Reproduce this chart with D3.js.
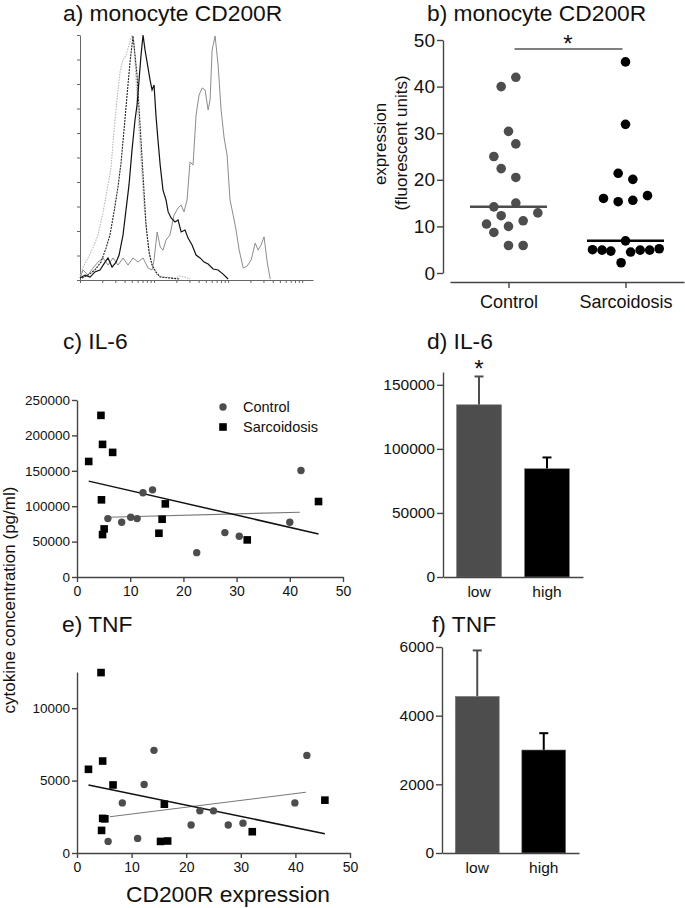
<!DOCTYPE html>
<meta charset='utf-8'>
<title>monocyte CD200R</title>
<style>
  body { margin: 0; background: #fff; }
  svg { font-family: 'Liberation Sans', Arial, Helvetica, sans-serif; }
</style>
<body>
<script src='https://cdn.jsdelivr.net/npm/d3@7'></script>
<script>

  // ---- a) histograms: fluorescence intensity vs % of max count
  var lightX = [1, 1.10, 1.28, 1.50, 1.75, 2.05, 2.39, 2.62, 2.88, 3.16, 3.47, 3.81, 4.18, 4.59, 5.04, 5.37, 5.71, 6.08, 6.67, 7.32, 8.04, 8.83, 9.69, 11.0, 14.1, 19.2, 22.5, 26.2, 30.6]
  var lightY = [2.0, 5.3, 9.0, 13.1, 18.4, 27.8, 38.8, 45.7, 61.2, 73.5, 84.9, 89.8, 91.8, 95.9, 100, 95.9, 81.6, 67.3, 49.0, 30.6, 18.4, 9.0, 4.9, 2.0, 1.2, 0.8, 1.6, 1.2, 0.4]
  var dashX = [1.06, 1.28, 1.59, 1.92, 2.25, 2.54, 2.88, 3.26, 3.58, 3.93, 4.32, 4.74, 5.20, 5.53, 5.89, 6.47, 7.10, 7.79, 8.56, 9.40, 10.6, 12.1, 16.4, 22.5]
  var dashY = [0.8, 2.0, 4.1, 7.3, 13.1, 18.4, 27.8, 38.0, 47.8, 61.2, 75.5, 89.0, 99.6, 91.8, 83.7, 63.3, 42.9, 22.4, 11.4, 6.1, 3.3, 1.2, 0.8, 0.4]
  var solidX = [1, 1.17, 1.37, 1.59, 1.86, 2.18, 2.39, 2.71, 3.07, 3.37, 3.81, 4.18, 4.59, 5.04, 5.53, 5.89, 6.27, 6.67, 7.10, 7.55, 8.04, 8.83, 9.40, 10.0, 10.6, 11.3, 12.1, 13.2, 14.5, 15.5, 17.0, 19.2, 21.1, 23.2, 26.2, 28.8, 32.6, 36.9, 41.8, 47.4, 53.7, 62.7, 73.2, 85.6, 100]
  var solidY = [0.8, 2.0, 1.2, 3.3, 4.1, 7.3, 9.0, 5.3, 7.3, 10.2, 18.4, 28.6, 38.8, 53.1, 65.3, 71.4, 81.6, 91.8, 100, 93.9, 89.0, 81.6, 77.6, 79.6, 67.3, 57.1, 46.9, 36.7, 32.7, 27.8, 25.3, 23.7, 24.5, 19.6, 20.4, 17.1, 14.3, 10.2, 9.0, 7.3, 6.5, 4.5, 4.1, 2.4, 0.4]
  var grayX = [1, 1.10, 1.28, 1.50, 1.75, 2.05, 2.39, 2.79, 3.26, 3.81, 4.45, 5.20, 6.08, 7.10, 8.29, 9.40, 10.0, 11.0, 12.1, 13.2, 14.5, 16.4, 18.6, 21.1, 23.2, 25.4, 27.9, 30.6, 33.6, 36.9, 40.5, 44.6, 48.9, 53.7, 57.1, 60.8, 66.7, 73.2, 80.4, 88.3, 96.9, 106, 117, 128, 141, 160, 181, 205, 232, 254, 279, 306, 337, 370]
  var grayY = [0.8, 4.1, 2.0, 4.9, 7.3, 9.0, 6.1, 9.0, 6.1, 9.0, 6.1, 9.0, 7.3, 9.0, 4.9, 4.1, 8.2, 19.6, 13.5, 12.2, 16.3, 18.4, 26.5, 29.4, 30.6, 27.8, 32.7, 48.2, 46.9, 67.3, 75.5, 78.4, 77.6, 69.4, 73.5, 93.9, 99.6, 87.8, 69.4, 58.0, 51.0, 32.7, 26.5, 20.4, 12.2, 4.9, 5.7, 8.2, 15.1, 12.2, 14.3, 17.6, 7.3, 0.4]

  // ---- b) CD200R expression per subject (beeswarm slot read off the picture)
  var groups = ['Control', 'Sarcoidosis']
  var ctrlExpr = [40.0, 42.0, 30.4, 27.7, 25.0, 22.4, 20.5, 14.2, 15.0, 12.3, 12.9, 10.5, 11.2, 10.0, 8.7, 5.9, 5.9]
  var ctrlSlot = [-1, 1, 0, 1, -2, -1, 1, -2, 1, -1, 4, -3, 2, 0, -2, 0, 2]
  var sarcExpr = [45.3, 31.9, 21.4, 20.1, 16.0, 15.3, 15.6, 16.6, 6.9, 5.0, 4.9, 4.7, 4.5, 4.9, 4.9, 5.2, 2.2]
  var sarcSlot = [0, 0, -1, 1, -3, -1, 1, 3, 0, -4.5, -3.2, -2, 0.7, 2, 3.3, 4.6, -0.6]

  // ---- c) IL-6 vs CD200R
  var ctrlIL6X = [5.8, 8.4, 10.1, 11.3, 12.4, 14.2, 22.5, 27.8, 30.5, 40.0, 42.1]
  var ctrlIL6Y = [82500, 77400, 84400, 82500, 118900, 123100, 34400, 62700, 57500, 77400, 150500]
  var sarcIL6X = [4.5, 2.2, 4.8, 6.7, 4.6, 5.1, 4.8, 16.6, 16.0, 15.4, 32.0, 45.4]
  var sarcIL6Y = [228300, 163200, 187300, 176000, 109000, 67900, 59900, 103300, 81600, 61800, 52400, 106600]
  var il6FitCtrlX = [5.8, 41.9], il6FitCtrlY = [84400, 91500]
  var il6FitSarcX = [2.2, 45.4], il6FitSarcY = [135400, 60800]

  // ---- e) TNF vs CD200R
  var ctrlTNFX = [5.7, 11.1, 8.3, 12.3, 14.1, 20.9, 22.5, 25.0, 27.7, 30.4, 39.9, 42.1]
  var ctrlTNFY = [800, 1010, 3460, 4730, 7090, 1930, 2910, 2910, 1930, 2060, 3460, 6740]
  var sarcTNFX = [4.4, 2.1, 4.7, 6.6, 4.7, 5.1, 4.5, 16.0, 15.3, 16.6, 32.1, 45.4]
  var sarcTNFY = [12460, 5780, 6350, 4700, 2390, 2360, 1560, 3370, 800, 830, 1470, 3650]
  var tnfFitCtrlX = [6.0, 41.9], tnfFitCtrlY = [2500, 4200]
  var tnfFitSarcX = [2.1, 45.4], tnfFitSarcY = [4700, 1330]

  // ---- d) / f) low vs high CD200R
  var levels = ['low', 'high']
  var il6Mean = [134400, 84500], il6Sem = [22100, 8800]
  var tnfMean = [4560, 3000], tnfSem = [1340, 490]

  var grey = '#4d4d4d'

  var svg = d3.select('body').append('svg')
  .attr('width', 685)
  .attr('height', 908)

  function styleAxis(g, size) {
    g.attr('font-size', size).attr('font-family', null)
    g.selectAll('path, line').attr('stroke', '#444').attr('stroke-width', 1.4)
    g.selectAll('text').attr('fill', '#111')
    return g
  }

  function title(x, y, s) {
    svg.append('text').attr('x', x).attr('y', y)
    .attr('font-size', 22.8).attr('fill', '#111').text(s)
  }

  /* ------- a) histogram overlay -------*/
  title(63, 21, 'a) monocyte CD200R')
  var xa = d3.scaleLog().domain([1, 1400]).range([80, 313])
  var ya = d3.scaleLinear().domain([0, 100]).range([280, 35])

  styleAxis(svg.append('g').attr('transform', 'translate(0,280)')
  .call(d3.axisBottom(xa).tickValues(xa.ticks()).tickSize(3).tickSizeOuter(0).tickFormat('')), 10)
  .selectAll('path, line').attr('stroke', '#666').attr('stroke-width', 1)
  styleAxis(svg.append('g').attr('transform', 'translate(80,0)')
  .call(d3.axisLeft(ya).tickValues(d3.range(0, 101, 10)).tickSize(3).tickSizeOuter(0).tickFormat('')), 10)
  .selectAll('path, line').attr('stroke', '#666').attr('stroke-width', 1)

  var hist = [
    { x: grayX, y: grayY, color: '#8c8c8c', dash: null, w: 1 },
    { x: lightX, y: lightY, color: '#b8b8b8', dash: '1.5,1.2', w: 1.1 },
    { x: dashX, y: dashY, color: '#222', dash: '2,1', w: 1.1 },
    { x: solidX, y: solidY, color: '#111', dash: null, w: 1.2 }
  ]
  var histLine = d3.line()
  .x(function(d) { return xa(d[0]) })
  .y(function(d) { return ya(d[1]) })

  svg.append('g').selectAll('path')
  .data(hist)
  .enter().append('path')
  .attr('d', function(h) { return histLine(d3.zip(h.x, h.y)) })
  .attr('fill', 'none')
  .attr('stroke', function(h) { return h.color })
  .attr('stroke-width', function(h) { return h.w })
  .attr('stroke-dasharray', function(h) { return h.dash })

  /* ------- b) scatter by group -------*/
  title(427, 21, 'b) monocyte CD200R')
  var xb = d3.scalePoint().domain(groups).range([450, 684]).padding(0.5)
  var yb = d3.scaleLinear().domain([0, 50]).range([273, 40])
  var slotW = 7.33

  styleAxis(svg.append('g').attr('transform', 'translate(443,0)')
  .call(d3.axisLeft(yb).tickValues(d3.range(0, 51, 10)).tickSize(6).tickSizeOuter(0).tickPadding(2)), 19)
  styleAxis(svg.append('g').attr('transform', 'translate(0,282)')
  .call(d3.axisBottom(xb).tickSize(6).tickSizeOuter(0).tickPadding(7)), 18)

  svg.append('text').attr('transform', 'translate(380,144) rotate(-90)')
  .attr('text-anchor', 'middle').attr('dy', '0.35em').attr('font-size', 17).attr('fill', '#111')
  .text('expression')
  svg.append('text').attr('transform', 'translate(401,143) rotate(-90)')
  .attr('text-anchor', 'middle').attr('dy', '0.35em').attr('font-size', 17).attr('fill', '#111')
  .text('(fluorescent units)')

  var groupData = [
    { name: 'Control', vals: ctrlExpr, slots: ctrlSlot, color: grey },
    { name: 'Sarcoidosis', vals: sarcExpr, slots: sarcSlot, color: '#000' }
  ]
  groupData.forEach(function(gd) {
    svg.append('g').selectAll('circle')
    .data(d3.zip(gd.vals, gd.slots))
    .enter().append('circle')
    .attr('cx', function(d) { return xb(gd.name) + d[1] * slotW })
    .attr('cy', function(d) { return yb(d[0]) })
    .attr('r', 4.8)
    .attr('fill', gd.color)
    var med = d3.median(gd.vals)
    svg.append('line')
    .attr('x1', xb(gd.name) - 38.5).attr('x2', xb(gd.name) + 38.5)
    .attr('y1', yb(med)).attr('y2', yb(med))
    .attr('stroke', gd.color).attr('stroke-width', 2.5)
  })

  // significance bar
  svg.append('line')
  .attr('x1', xb('Control') + 6).attr('x2', xb('Sarcoidosis') - 3)
  .attr('y1', 49).attr('y2', 49)
  .attr('stroke', '#555').attr('stroke-width', 1.3)
  svg.append('text').attr('x', (xb('Control') + xb('Sarcoidosis')) / 2 + 1).attr('y', 52)
  .attr('text-anchor', 'middle').attr('font-size', 24).attr('fill', '#111').text('*')

  /* ------- c) and e) scatter with fits -------*/
  function scatterPanel(o) {
    styleAxis(svg.append('g').attr('transform', 'translate(0,' + o.y.range()[0] + ')')
    .call(d3.axisBottom(o.x).tickValues(d3.range(0, 51, 10)).tickSize(5).tickSizeOuter(0).tickPadding(4)), 14)
    styleAxis(svg.append('g').attr('transform', 'translate(' + o.x.range()[0] + ',0)')
    .call(d3.axisLeft(o.y).tickValues(o.ticks).tickSize(5).tickSizeOuter(0).tickPadding(2).tickFormat(d3.format('d'))), 13.5)

    var fitLine = d3.line()
    .x(function(d) { return o.x(d[0]) })
    .y(function(d) { return o.y(d[1]) })
    svg.append('path').attr('d', fitLine(d3.zip(o.fitCX, o.fitCY)))
    .attr('stroke', '#777').attr('stroke-width', 1.1).attr('fill', 'none')
    svg.append('path').attr('d', fitLine(d3.zip(o.fitSX, o.fitSY)))
    .attr('stroke', '#111').attr('stroke-width', 1.5).attr('fill', 'none')

    svg.append('g').selectAll('circle')
    .data(d3.zip(o.cx, o.cy))
    .enter().append('circle')
    .attr('cx', function(d) { return o.x(d[0]) })
    .attr('cy', function(d) { return o.y(d[1]) })
    .attr('r', 3.7)
    .attr('fill', grey)

    svg.append('g').selectAll('rect')
    .data(d3.zip(o.sx, o.sy))
    .enter().append('rect')
    .attr('x', function(d) { return o.x(d[0]) - 3.8 })
    .attr('y', function(d) { return o.y(d[1]) - 3.8 })
    .attr('width', 7.6).attr('height', 7.6)
    .attr('fill', '#000')
  }

  title(63, 349, 'c) IL-6')
  scatterPanel({
    x: d3.scaleLinear().domain([0, 50]).range([77, 343]),
    y: d3.scaleLinear().domain([0, 250000]).range([577, 400]),
    ticks: d3.range(0, 250001, 50000),
    cx: ctrlIL6X, cy: ctrlIL6Y, sx: sarcIL6X, sy: sarcIL6Y,
    fitCX: il6FitCtrlX, fitCY: il6FitCtrlY, fitSX: il6FitSarcX, fitSY: il6FitSarcY
  })

  // legend
  var legend = svg.append('g').attr('transform', 'translate(223,407)')
  legend.append('circle').attr('r', 3.7).attr('fill', grey)
  legend.append('rect').attr('x', -3.8).attr('y', 16.2).attr('width', 7.6).attr('height', 7.6).attr('fill', '#000')
  legend.selectAll('text')
  .data(groups)
  .enter().append('text')
  .attr('x', 20)
  .attr('y', function(d, i) { return i * 20 })
  .attr('dy', '0.35em')
  .attr('font-size', 14.5)
  .attr('fill', '#111')
  .text(function(d) { return d })

  title(62, 632, 'e) TNF')
  scatterPanel({
    x: d3.scaleLinear().domain([0, 50]).range([77, 350]),
    y: d3.scaleLinear().domain([0, 12500]).range([853, 672]),
    ticks: [0, 5000, 10000],
    cx: ctrlTNFX, cy: ctrlTNFY, sx: sarcTNFX, sy: sarcTNFY,
    fitCX: tnfFitCtrlX, fitCY: tnfFitCtrlY, fitSX: tnfFitSarcX, fitSY: tnfFitSarcY
  })

  svg.append('text').attr('transform', 'translate(9,600) rotate(-90)')
  .attr('text-anchor', 'middle').attr('dy', '0.35em').attr('font-size', 17).attr('fill', '#111')
  .text('cytokine concentration (pg/ml)')
  svg.append('text').attr('x', 228).attr('y', 902)
  .attr('text-anchor', 'middle').attr('font-size', 22.8).attr('fill', '#111')
  .text('CD200R expression')

  /* ------- d) and f) bars with SEM -------*/
  function barPanel(o) {
    var x = d3.scaleBand().domain(levels).range(o.xr).paddingInner(0.34).paddingOuter(0.2)
    styleAxis(svg.append('g').attr('transform', 'translate(' + o.xr[0] + ',0)')
    .call(d3.axisLeft(o.y).tickValues(o.ticks).tickSize(6).tickSizeOuter(0).tickPadding(2).tickFormat(d3.format('d'))), 15.5)
    var colors = [grey, '#000']

    var bars = svg.append('g').selectAll('g')
    .data(levels)
    .enter().append('g')
    bars.append('line')
    .attr('x1', function(d) { return x(d) + x.bandwidth() / 2 })
    .attr('x2', function(d) { return x(d) + x.bandwidth() / 2 })
    .attr('y1', function(d, i) { return o.y(o.mean[i]) })
    .attr('y2', function(d, i) { return o.y(o.mean[i] + o.sem[i]) })
    .attr('stroke', function(d, i) { return colors[i] }).attr('stroke-width', 2)
    bars.append('line')
    .attr('x1', function(d) { return x(d) + x.bandwidth() / 2 - 4.5 })
    .attr('x2', function(d) { return x(d) + x.bandwidth() / 2 + 4.5 })
    .attr('y1', function(d, i) { return o.y(o.mean[i] + o.sem[i]) })
    .attr('y2', function(d, i) { return o.y(o.mean[i] + o.sem[i]) })
    .attr('stroke', function(d, i) { return colors[i] }).attr('stroke-width', 2)
    bars.append('rect')
    .attr('x', function(d) { return x(d) })
    .attr('width', x.bandwidth())
    .attr('y', function(d, i) { return o.y(o.mean[i]) })
    .attr('height', function(d, i) { return o.y(0) - o.y(o.mean[i]) })
    .attr('fill', function(d, i) { return colors[i] })
    .attr('stroke', '#777').attr('stroke-width', 0.6)

    styleAxis(svg.append('g').attr('transform', 'translate(0,' + o.y(0) + ')')
    .call(d3.axisBottom(x).tickSize(0).tickSizeOuter(0).tickPadding(9)), 15.5)
    return x
  }

  title(427, 349, 'd) IL-6')
  var xd = barPanel({
    xr: [443, 583],
    y: d3.scaleLinear().domain([0, 160000]).range([577, 372]),
    ticks: d3.range(0, 150001, 50000),
    mean: il6Mean, sem: il6Sem
  })
  svg.append('text').attr('x', xd('low') + xd.bandwidth() / 2).attr('y', 377)
  .attr('text-anchor', 'middle').attr('font-size', 24).attr('fill', '#111').text('*')

  title(432, 632, 'f) TNF')
  barPanel({
    xr: [442, 579],
    y: d3.scaleLinear().domain([0, 6000]).range([853, 647]),
    ticks: d3.range(0, 6001, 2000),
    mean: tnfMean, sem: tnfSem
  })

</script>
</body>
